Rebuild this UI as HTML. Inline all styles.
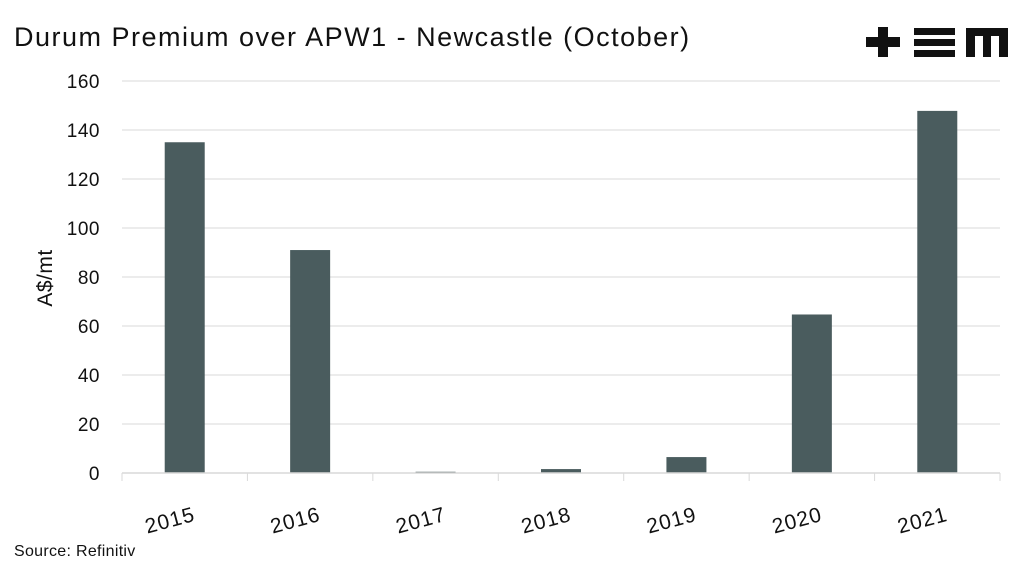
<!DOCTYPE html>
<html><head><meta charset="utf-8"><style>
body{margin:0;background:#fff;width:1024px;height:569px;overflow:hidden;font-family:"Liberation Sans",sans-serif}
</style></head><body>
<svg id="c" width="1024" height="569">
<rect width="1024" height="569" fill="#fff"/>
<text x="14" y="46" font-size="27" letter-spacing="1.5" fill="#111">Durum Premium over APW1 - Newcastle (October)</text>
<g fill="#111">
<rect x="866" y="37" width="34" height="10"/><rect x="878" y="27" width="10" height="30"/>
<rect x="914" y="28" width="41" height="7"/><rect x="914" y="39" width="41" height="7"/><rect x="914" y="50" width="41" height="7"/>
<rect x="966" y="28" width="42" height="8"/><rect x="966" y="28" width="9" height="29"/><rect x="983" y="28" width="8" height="29"/><rect x="999" y="28" width="9" height="29"/>
</g>
<text transform="translate(52,278) rotate(-90)" text-anchor="middle" font-size="21" letter-spacing="0.5" fill="#111">A$/mt</text>
<text x="14" y="556" font-size="16" letter-spacing="0.3" fill="#111">Source: Refinitiv</text>
<g id="g"></g>
</svg>
<script>
const categories=["2015","2016","2017","2018","2019","2020","2021"];
const values=[135,91,0.5,1.6,6.5,64.7,147.8];
const yTicks=[0,20,40,60,80,100,120,140,160];
const NS="http://www.w3.org/2000/svg",g=document.getElementById('g');
const x0=122,x1=1000,y0=473,y1=81,yMax=160;
const bw=(x1-x0)/categories.length;
const ys=v=>y0-(v/yMax)*(y0-y1);
const xs=i=>x0+bw*(i+0.5);
function mk(t,a){const e=document.createElementNS(NS,t);for(const k in a)e.setAttribute(k,a[k]);g.appendChild(e);return e;}
yTicks.forEach(t=>{
 if(t>0){const l=mk('line',{x1:x0,x2:x1,y1:ys(t),y2:ys(t),stroke:'#d9d9d9','stroke-width':1});
 
 }
 const tx=mk('text',{x:100,y:ys(t)+7,'text-anchor':'end','font-size':19,'letter-spacing':0.5,fill:'#111'});tx.textContent=t;
 
 
});
categories.forEach((c,i)=>{
 const h=y0-ys(values[i]);
 const r=mk('rect',{x:xs(i)-20,y:ys(values[i]),width:40,height:h,fill:'#4a5c5e'});
 
 
 const tk=mk('line',{x1:x0+bw*i,x2:x0+bw*i,y1:y0,y2:y0+8,stroke:'#d9d9d9'});
 
 
 const tx=mk('text',{transform:`translate(${xs(i)-13},${y0+54}) rotate(-15)`,'text-anchor':'middle','font-size':21,'letter-spacing':1,fill:'#111'});
 tx.textContent=c;
 
 
});
const lt=mk('line',{x1:x1,x2:x1,y1:y0,y2:y0+8,stroke:'#d9d9d9'});


const ax=mk('line',{x1:x0,x2:x1,y1:y0,y2:y0,stroke:'#d9d9d9','stroke-width':1.5});


</script>
</body></html>
